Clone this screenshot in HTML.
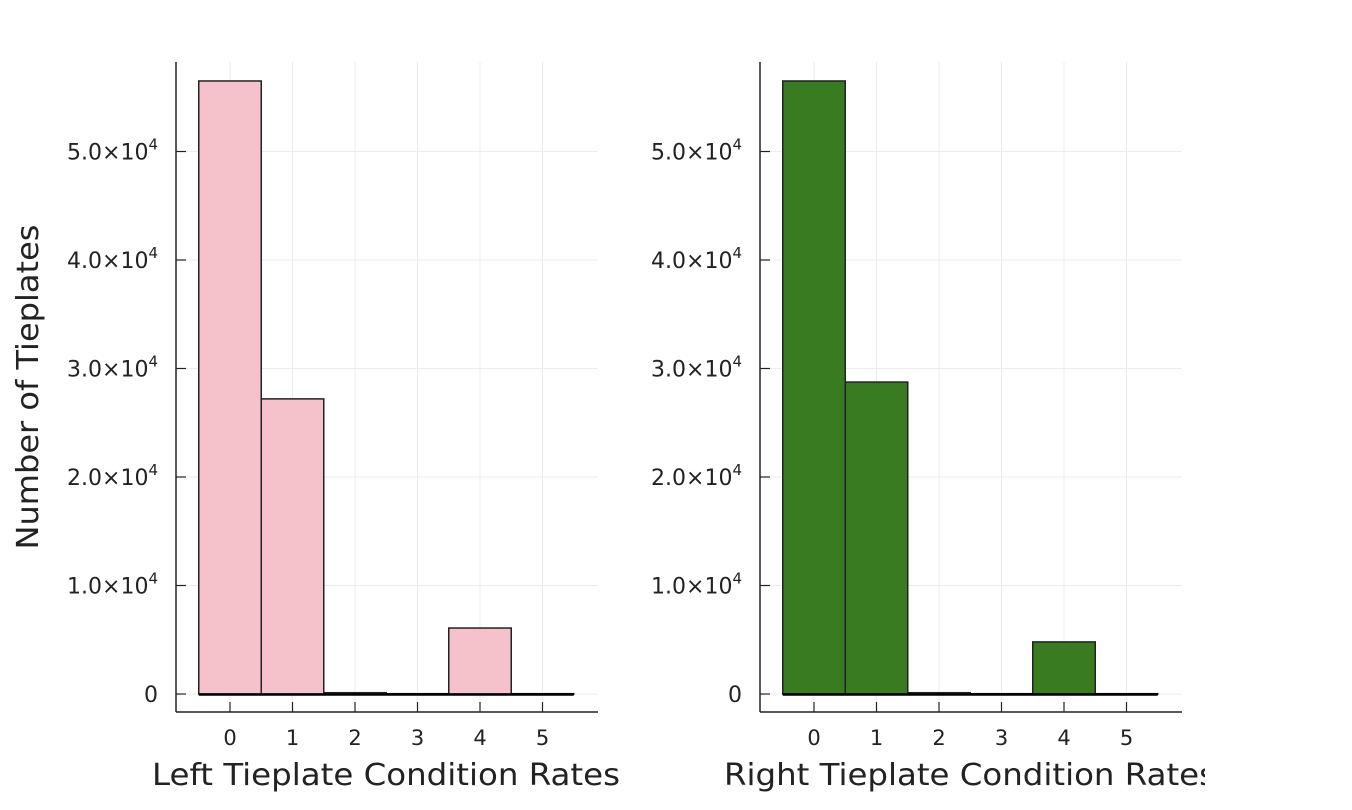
<!DOCTYPE html>
<html><head><meta charset="utf-8"><style>
body{margin:0;background:#fff;}
svg text{font-family:"DejaVu Sans","Liberation Sans",sans-serif;fill:#222;}
</style></head><body>
<svg id="c" width="1352" height="805" xmlns="http://www.w3.org/2000/svg"></svg>
<script>
const categories=[0,1,2,3,4,5];
const leftValues=[56500,27200,120,30,6080,30];
const rightValues=[56500,28750,120,30,4800,30];
const yTicks=[0,10000,20000,30000,40000,50000];
const yTickLabels=["0","1.0×10","2.0×10","3.0×10","4.0×10","5.0×10"];
const NS="http://www.w3.org/2000/svg";
const svg=document.getElementById('c');
function mk(t,a,p){const e=document.createElementNS(NS,t);for(const k in a)e.setAttribute(k,a[k]);(p||svg).appendChild(e);return e;}
function panel(ax0,vals,color,title,name,titleX,titleLen,parent){
  const g=mk('g',{},parent);
  
  
  const y=v=>694-v*0.010850;
  const x=v=>ax0+54+v*62.5;
  const right=ax0+422;
  categories.forEach(c=>{const l=mk('line',{x1:x(c),x2:x(c),y1:62,y2:712,stroke:'#ebebeb','stroke-width':1},g);});
  yTicks.forEach(t=>{const l=mk('line',{x1:ax0,x2:right,y1:y(t),y2:y(t),stroke:'#ebebeb','stroke-width':1},g);});
  vals.forEach((v,i)=>{const b=mk('rect',{x:x(categories[i]-0.5),y:y(v),width:62.5,height:Math.max(y(0)-y(v),0.5),fill:color,stroke:'#222','stroke-width':1.5},g);});
  const bl=mk('line',{x1:x(-0.5),x2:x(5.5),y1:y(0)+0.5,y2:y(0)+0.5,stroke:'#000','stroke-width':2.5},g);
  
  const ya=mk('line',{x1:ax0,x2:ax0,y1:62,y2:712,stroke:'#222','stroke-width':1.5},g);
  const xa=mk('line',{x1:ax0,x2:right,y1:712,y2:712,stroke:'#222','stroke-width':1.5},g);
  yTicks.forEach((t,i)=>{
    mk('line',{x1:ax0,x2:ax0+10,y1:y(t),y2:y(t),stroke:'#222','stroke-width':1.2},g);
    const tx=mk('text',{x:ax0-18,y:y(t)+8,'text-anchor':'end','font-size':22},g);
    
    tx.textContent=yTickLabels[i];
    if(i>0){const s=mk('tspan',{dy:-10,'font-size':15},tx);s.textContent='4';}
  });
  categories.forEach(c=>{
    mk('line',{x1:x(c),x2:x(c),y1:702,y2:712,stroke:'#222','stroke-width':1.2},g);
    const tx=mk('text',{x:x(c),y:745,'text-anchor':'middle','font-size':21},g);
    
    tx.textContent=c;
  });
  const xt=mk('text',{x:titleX,y:785,'text-anchor':'start','font-size':30,textLength:titleLen,lengthAdjust:'spacingAndGlyphs'},g);
  
  xt.textContent=title;
}
panel(176,leftValues,'#f5c1cb','Left Tieplate Condition Rates','left-histogram',152,468);
const defs=mk('defs',{});
const cp=mk('clipPath',{id:'cl'},defs);mk('rect',{x:0,y:0,width:1205,height:805},cp);
const gr=mk('g',{'clip-path':'url(#cl)'});
panel(760,rightValues,'#387b21','Right Tieplate Condition Rates','right-histogram',724,492,gr);
const yt=mk('text',{x:0,y:0,'text-anchor':'middle','font-size':30,textLength:325,lengthAdjust:'spacingAndGlyphs',transform:'translate(38,387) rotate(-90)'});

yt.textContent='Number of Tieplates';
</script>
</body></html>
